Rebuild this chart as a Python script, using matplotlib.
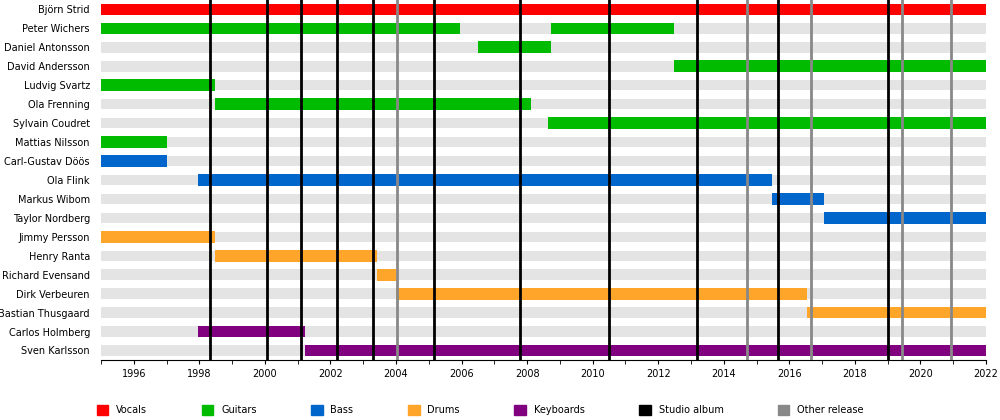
import matplotlib
matplotlib.use("Agg")
import matplotlib.pyplot as plt
from matplotlib.patches import Patch

members = ["Björn Strid","Peter Wichers","Daniel Antonsson","David Andersson","Ludvig Svartz",
           "Ola Frenning","Sylvain Coudret","Mattias Nilsson","Carl-Gustav Döös","Ola Flink",
           "Markus Wibom","Taylor Nordberg","Jimmy Persson","Henry Ranta","Richard Evensand",
           "Dirk Verbeuren","Bastian Thusgaard","Carlos Holmberg","Sven Karlsson"]
# (member index, start, end, role)
spans = [(0,1995,2022,"Vocals"),(1,1995,2005.95,"Guitars"),(1,2008.73,2012.48,"Guitars"),
         (2,2006.5,2008.73,"Guitars"),(3,2012.48,2022,"Guitars"),(4,1995,1998.48,"Guitars"),
         (5,1998.48,2008.12,"Guitars"),(6,2008.64,2022,"Guitars"),(7,1995,1997.0,"Guitars"),
         (8,1995,1997.0,"Bass"),(9,1997.96,2015.47,"Bass"),(10,2015.47,2017.06,"Bass"),
         (11,2017.06,2022,"Bass"),(12,1995,1998.48,"Drums"),(13,1998.48,2003.42,"Drums"),
         (14,2003.42,2004.0,"Drums"),(15,2004.0,2016.54,"Drums"),(16,2016.54,2022,"Drums"),
         (17,1997.96,2001.22,"Keyboards"),(18,2001.22,2022,"Keyboards")]
studio_albums = [1998.33,2000.06,2001.1,2002.2,2003.3,2005.16,2007.78,2010.5,2013.18,2015.65,2019.01]
other_releases = [2004.03,2014.7,2016.66,2019.44,2020.93]
colors = {"Vocals":"#ff0000","Guitars":"#00bb00","Bass":"#0066cc","Drums":"#ffa52a","Keyboards":"#800080"}

fig = plt.figure(figsize=(10,4.2),dpi=100)
ax = fig.add_axes([0.101,0.143,0.885,0.857])
n = len(members)
for i in range(n):
    ax.barh(i,2022-1995,left=1995,height=0.55,color="#e4e4e4",zorder=0)
for (i,s,e,r) in spans:
    ax.barh(i,e-s,left=s,height=0.62,color=colors[r],zorder=2)
for x in studio_albums:
    ax.axvline(x,color="black",lw=2,zorder=3)
for x in other_releases:
    ax.axvline(x,color="#888888",lw=2,zorder=3)
ax.set_xlim(1995,2022)
ax.set_ylim(n-0.5,-0.5)
ax.set_yticks(range(n))
ax.set_yticklabels(members,fontsize=7)
ax.set_xticks(range(1996,2023,2))
ax.set_xticklabels([str(y) for y in range(1996,2023,2)],fontsize=7)
ax.xaxis.set_minor_locator(matplotlib.ticker.MultipleLocator(1))
ax.tick_params(axis="y",length=0,pad=8)
ax.tick_params(axis="x",which="both",length=3,direction="out")
for s in ["top","right","left"]:
    ax.spines[s].set_visible(False)
handles = [Patch(color=c,label=k) for k,c in colors.items()]
handles += [Patch(color="black",label="Studio album"),Patch(color="#888888",label="Other release")]
fig.legend(handles=handles,loc="lower left",bbox_to_anchor=(0.088,-0.01),ncol=7,frameon=False,
           fontsize=7,handlelength=1.2,handleheight=1.2,columnspacing=5.6)
fig.savefig("out.png",dpi=100)
